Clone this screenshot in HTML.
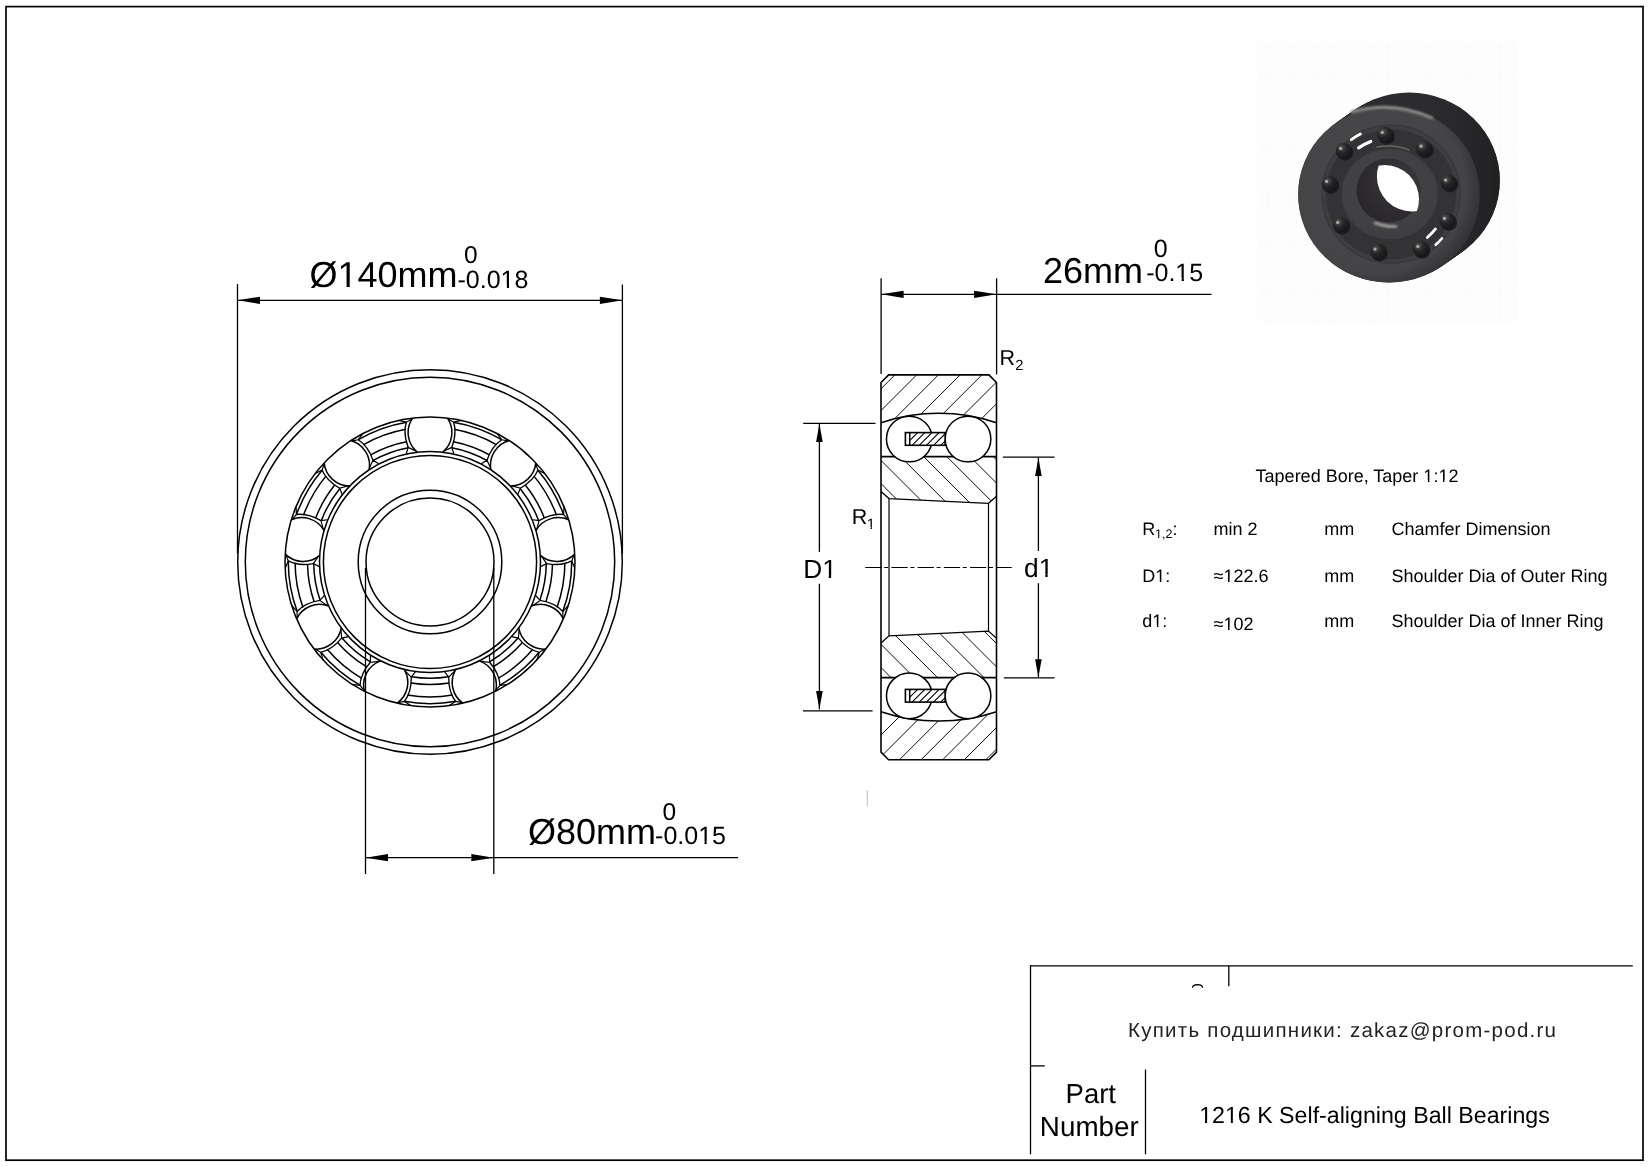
<!DOCTYPE html><html><head><meta charset="utf-8"><title>1216 K</title><style>html,body{margin:0;padding:0;background:#fff;overflow:hidden}svg{display:block;will-change:transform}</style></head><body><svg width="1649" height="1167" viewBox="0 0 1649 1167"><defs><clipPath id="annBall"><path fill-rule="evenodd" clip-rule="evenodd" d="M285 562a145 145 0 1 0 290 0a145 145 0 1 0 -290 0zM319.5 562a110.5 110.5 0 1 0 221 0a110.5 110.5 0 1 0 -221 0z"/></clipPath><clipPath id="annPock"><path fill-rule="evenodd" clip-rule="evenodd" d="M288 562a142 142 0 1 0 284 0a142 142 0 1 0 -284 0zM313.4 562a116.6 116.6 0 1 0 233.2 0a116.6 116.6 0 1 0 -233.2 0z"/></clipPath><clipPath id="cUO"><path d="M881 382.5L888.6 374.9L988.9 374.9L996.5 382.5L996.5 422.7A182.1 182.1 0 0 0 881 422.7z"/></clipPath><clipPath id="cLO"><path d="M881 752.1L888.6 759.7L988.9 759.7L996.5 752.1L996.5 711.7A182.1 182.1 0 0 1 881 711.7z"/></clipPath><clipPath id="cUI"><path d="M881 456.7L996.5 456.7L996.5 496.2L988.5 503.3L889 498.6L881 491.5z"/></clipPath><clipPath id="cLI"><path d="M881 677.7L996.5 677.7L996.5 638.2L988.5 631.1L889 635.8L881 642.9z"/></clipPath><clipPath id="cage439"><rect x="909.8" y="432.6" width="35.3" height="12.7"/></clipPath><clipPath id="cage695"><rect x="909.8" y="689.4" width="35.3" height="12.7"/></clipPath><clipPath id="cHole"><circle cx="1384.8" cy="199.3" r="34.2"/></clipPath><radialGradient id="gFace" cx="0.42" cy="0.45" r="0.62"><stop offset="0" stop-color="#4a4a4c"/><stop offset="0.8" stop-color="#444446"/><stop offset="1" stop-color="#2e2e30"/></radialGradient>
<linearGradient id="gSide" x1="0" y1="0" x2="1" y2="0"><stop offset="0.5" stop-color="#2c2c2e" stop-opacity="0"/><stop offset="1" stop-color="#202022" stop-opacity="1"/></linearGradient>
<radialGradient id="gInner" cx="0.45" cy="0.45" r="0.6"><stop offset="0" stop-color="#464648"/><stop offset="1" stop-color="#3e3e40"/></radialGradient>
<radialGradient id="gBore" cx="0.7" cy="0.35" r="0.7"><stop offset="0" stop-color="#3a3a3c"/><stop offset="1" stop-color="#2a272c"/></radialGradient>
<radialGradient id="gBall" cx="0.35" cy="0.3" r="0.75"><stop offset="0" stop-color="#555"/><stop offset="0.45" stop-color="#262628"/><stop offset="1" stop-color="#141416"/></radialGradient>
<filter id="blur1" x="-20%" y="-50%" width="140%" height="200%"><feGaussianBlur stdDeviation="1"/></filter>
<filter id="blur05" x="-50%" y="-50%" width="200%" height="200%"><feGaussianBlur stdDeviation="0.5"/></filter></defs><rect width="1649" height="1167" fill="#fff"/><rect x="6" y="6.6" width="1637" height="1153.6" fill="none" stroke="#000" stroke-width="1.7"/><circle cx="430" cy="562" r="192.3" fill="none" stroke="#000" stroke-width="1.5"/><circle cx="430" cy="562" r="184.7" fill="none" stroke="#000" stroke-width="1.5"/><circle cx="430" cy="562" r="145" fill="none" stroke="#000" stroke-width="1.5"/><circle cx="430" cy="562" r="110.5" fill="none" stroke="#000" stroke-width="1.5"/><circle cx="430" cy="562" r="106.6" fill="none" stroke="#000" stroke-width="1.5"/><circle cx="430" cy="562" r="71.8" fill="none" stroke="#000" stroke-width="1.5"/><circle cx="430" cy="562" r="64" fill="none" stroke="#000" stroke-width="1.5"/><path fill="none" stroke="#000" stroke-width="1.5" d="M412.59 418.05A25.67 25.67 0 0 0 417.38 452.22M447.41 418.05A25.67 25.67 0 0 1 442.62 452.22M509.2 440.54A25.67 25.67 0 0 0 490.9 469.79M535.86 462.91A25.67 25.67 0 0 1 510.23 486.02M568.74 519.86A25.67 25.67 0 0 0 535.92 530.51M574.79 554.14A25.67 25.67 0 0 1 540.3 555.37M563.37 618.9A25.67 25.67 0 0 0 531.38 605.96M545.96 649.05A25.67 25.67 0 0 1 518.76 627.82M495.59 691.32A25.67 25.67 0 0 0 479.41 660.84M462.88 703.22A25.67 25.67 0 0 1 455.69 669.47M397.12 703.22A25.67 25.67 0 0 0 404.31 669.47M364.41 691.32A25.67 25.67 0 0 1 380.59 660.84M314.04 649.05A25.67 25.67 0 0 0 341.24 627.82M296.63 618.9A25.67 25.67 0 0 1 328.62 605.96M285.21 554.14A25.67 25.67 0 0 0 319.7 555.37M291.26 519.86A25.67 25.67 0 0 1 324.08 530.51M324.14 462.91A25.67 25.67 0 0 0 349.77 486.02M350.8 440.54A25.67 25.67 0 0 1 369.1 469.79"/><path fill="none" stroke="#000" stroke-width="1.35" d="M453.6 422.2Q457.1 433.2 451.8 447.4M406.4 422.2Q402.9 433.2 408.2 447.4M537.94 470.08Q533.55 480.75 520.36 488.22M501.78 439.74Q492.03 445.91 486.96 460.2M571.77 560.97Q561.55 566.32 546.64 563.57M563.58 514.48Q552.14 512.95 539.07 520.63M539.27 652.34Q527.99 649.87 518.35 638.18M562.87 611.46Q555.09 602.93 540.15 600.42M455.64 701.44Q448.59 692.3 448.71 677.14M499.99 685.3Q499.52 673.76 489.68 662.23M360.01 685.3Q360.48 673.76 370.32 662.23M404.36 701.44Q411.41 692.3 411.29 677.14M297.13 611.46Q304.91 602.93 319.85 600.42M320.73 652.34Q332.01 649.87 341.65 638.18M296.42 514.48Q307.86 512.95 320.93 520.63M288.23 560.97Q298.45 566.32 313.36 563.57M358.22 439.74Q367.97 445.91 373.04 460.2M322.06 470.08Q326.45 480.75 339.64 488.22"/><path fill="none" stroke="#000" stroke-width="1.5" d="M453.28 422.23A141.7 141.7 0 0 1 502.01 439.96M454.2 429.29A134.9 134.9 0 0 1 496.77 444.78M453.46 441.77A122.5 122.5 0 0 1 489.31 454.82M451.81 447.76A116.3 116.3 0 0 1 486.73 460.47M537.68 469.89A141.7 141.7 0 0 1 563.61 514.8M533.84 475.89A134.9 134.9 0 0 1 556.49 515.12M525.25 484.97A122.5 122.5 0 0 1 544.33 518.02M520.13 488.51A116.3 116.3 0 0 1 538.72 520.69M571.69 560.65A141.7 141.7 0 0 1 562.69 611.73M564.9 562.79A134.9 134.9 0 0 1 557.03 607.4M552.48 564.22A122.5 122.5 0 0 1 545.85 601.8M546.29 563.64A116.3 116.3 0 0 1 539.84 600.23M539.41 652.05A141.7 141.7 0 0 1 499.68 685.38M532.83 649.31A134.9 134.9 0 0 1 498.13 678.43M522.4 642.43A122.5 122.5 0 0 1 493.17 666.96M518.03 638A116.3 116.3 0 0 1 489.56 661.89M455.93 701.31A141.7 141.7 0 0 1 404.07 701.31M452.65 694.99A134.9 134.9 0 0 1 407.35 694.99M449.08 683.01A122.5 122.5 0 0 1 410.92 683.01M448.58 676.81A116.3 116.3 0 0 1 411.42 676.81M360.32 685.38A141.7 141.7 0 0 1 320.59 652.05M361.87 678.43A134.9 134.9 0 0 1 327.17 649.31M366.83 666.96A122.5 122.5 0 0 1 337.6 642.43M370.44 661.89A116.3 116.3 0 0 1 341.97 638M297.31 611.73A141.7 141.7 0 0 1 288.31 560.65M302.97 607.4A134.9 134.9 0 0 1 295.1 562.79M314.15 601.8A122.5 122.5 0 0 1 307.52 564.22M320.16 600.23A116.3 116.3 0 0 1 313.71 563.64M296.39 514.8A141.7 141.7 0 0 1 322.32 469.89M303.51 515.12A134.9 134.9 0 0 1 326.16 475.89M315.67 518.02A122.5 122.5 0 0 1 334.75 484.97M321.28 520.69A116.3 116.3 0 0 1 339.87 488.51M357.99 439.96A141.7 141.7 0 0 1 406.72 422.23M363.23 444.78A134.9 134.9 0 0 1 405.8 429.29M370.69 454.82A122.5 122.5 0 0 1 406.54 441.77M373.27 460.47A116.3 116.3 0 0 1 408.19 447.76"/><path fill="none" stroke="#000" stroke-width="1.2" d="M448 418.9L453.6 422.2L461.5 420.4M443.9 451.1L451.8 447.4L453.8 453.8M412 418.9L406.4 422.2L398.5 420.4M416.1 451.1L408.2 447.4L406.2 453.8M535.77 463.95L537.94 470.08L545.15 473.78M511.93 485.98L520.36 488.22L517.78 494.41M508.19 440.81L501.78 439.74L496.89 433.28M490.64 468.11L486.96 460.2L481.32 463.82M574.05 554.88L571.77 560.97L574.92 568.43M541.63 556.43L546.64 563.57L540.69 566.65M567.8 519.42L563.58 514.48L563.98 506.39M536.8 529.05L539.07 520.63L532.42 519.77M544.93 649.14L539.27 652.34L536.88 660.08M519.09 629.49L518.35 638.18L511.8 636.71M562.93 617.96L562.87 611.46L568.38 605.52M532.99 605.41L540.15 600.42L535.6 595.49M462.03 702.63L455.64 701.44L448.83 705.83M454.87 670.97L448.71 677.14L444.64 671.81M495.86 690.31L499.99 685.3L508.03 684.29M480.99 661.46L489.68 662.23L489.37 655.53M364.14 690.31L360.01 685.3L351.97 684.29M379.01 661.46L370.32 662.23L370.63 655.53M397.97 702.63L404.36 701.44L411.17 705.83M405.13 670.97L411.29 677.14L415.36 671.81M297.07 617.96L297.13 611.46L291.62 605.52M327.01 605.41L319.85 600.42L324.4 595.49M315.07 649.14L320.73 652.34L323.12 660.08M340.91 629.49L341.65 638.18L348.2 636.71M292.2 519.42L296.42 514.48L296.02 506.39M323.2 529.05L320.93 520.63L327.58 519.77M285.95 554.88L288.23 560.97L285.08 568.43M318.37 556.43L313.36 563.57L319.31 566.65M351.81 440.81L358.22 439.74L363.11 433.28M369.36 468.11L373.04 460.2L378.68 463.82M324.23 463.95L322.06 470.08L314.85 473.78M348.07 485.98L339.64 488.22L342.22 494.41"/><line x1="237.5" y1="284" x2="237.5" y2="553.5" stroke="#000" stroke-width="1.3"/><line x1="622.4" y1="284.4" x2="622.4" y2="553.5" stroke="#000" stroke-width="1.3"/><line x1="237.5" y1="300.3" x2="622.4" y2="300.3" stroke="#000" stroke-width="1.3"/><path d="M237.5 300.3L260 303.9L260 296.7z" fill="#000"/><path d="M622.4 300.3L599.9 296.7L599.9 303.9z" fill="#000"/><line x1="365.5" y1="568" x2="365.5" y2="874" stroke="#000" stroke-width="1.3"/><line x1="493.8" y1="568" x2="493.8" y2="874" stroke="#000" stroke-width="1.3"/><line x1="365.5" y1="857.7" x2="738.1" y2="857.7" stroke="#000" stroke-width="1.3"/><path d="M365.5 857.7L388 861.3L388 854.1z" fill="#000"/><path d="M493.8 857.7L471.3 854.1L471.3 861.3z" fill="#000"/><path clip-path="url(#cUO)" fill="none" stroke="#000" stroke-width="0.95" d="M317.3 300L-182.7 800M339.05 300L-160.95 800M360.8 300L-139.2 800M382.55 300L-117.45 800M404.3 300L-95.7 800M426.05 300L-73.95 800M447.8 300L-52.2 800M469.55 300L-30.45 800M491.3 300L-8.7 800M513.05 300L13.05 800M534.8 300L34.8 800M556.55 300L56.55 800M578.3 300L78.3 800M600.05 300L100.05 800M621.8 300L121.8 800M643.55 300L143.55 800M665.3 300L165.3 800M687.05 300L187.05 800M708.8 300L208.8 800M730.55 300L230.55 800M752.3 300L252.3 800M774.05 300L274.05 800M795.8 300L295.8 800M817.55 300L317.55 800M839.3 300L339.3 800M861.05 300L361.05 800M882.8 300L382.8 800M904.55 300L404.55 800M926.3 300L426.3 800M948.05 300L448.05 800M969.8 300L469.8 800M991.55 300L491.55 800M1013.3 300L513.3 800M1035.05 300L535.05 800M1056.8 300L556.8 800M1078.55 300L578.55 800M1100.3 300L600.3 800M1122.05 300L622.05 800M1143.8 300L643.8 800M1165.55 300L665.55 800M1187.3 300L687.3 800M1209.05 300L709.05 800M1230.8 300L730.8 800M1252.55 300L752.55 800M1274.3 300L774.3 800M1296.05 300L796.05 800M1317.8 300L817.8 800M1339.55 300L839.55 800M1361.3 300L861.3 800M1383.05 300L883.05 800M1404.8 300L904.8 800M1426.55 300L926.55 800M1448.3 300L948.3 800M1470.05 300L970.05 800M1491.8 300L991.8 800M1513.55 300L1013.55 800M1535.3 300L1035.3 800M1557.05 300L1057.05 800M1578.8 300L1078.8 800M1600.55 300L1100.55 800M1622.3 300L1122.3 800"/><path clip-path="url(#cLO)" fill="none" stroke="#000" stroke-width="0.95" d="M711.2 300L211.2 800M732.8 300L232.8 800M754.4 300L254.4 800M776 300L276 800M797.6 300L297.6 800M819.2 300L319.2 800M840.8 300L340.8 800M862.4 300L362.4 800M884 300L384 800M905.6 300L405.6 800M927.2 300L427.2 800M948.8 300L448.8 800M970.4 300L470.4 800M992 300L492 800M1013.6 300L513.6 800M1035.2 300L535.2 800M1056.8 300L556.8 800M1078.4 300L578.4 800M1100 300L600 800M1121.6 300L621.6 800M1143.2 300L643.2 800M1164.8 300L664.8 800M1186.4 300L686.4 800M1208 300L708 800M1229.6 300L729.6 800M1251.2 300L751.2 800M1272.8 300L772.8 800M1294.4 300L794.4 800M1316 300L816 800M1337.6 300L837.6 800M1359.2 300L859.2 800M1380.8 300L880.8 800M1402.4 300L902.4 800M1424 300L924 800M1445.6 300L945.6 800M1467.2 300L967.2 800M1488.8 300L988.8 800M1510.4 300L1010.4 800M1532 300L1032 800M1553.6 300L1053.6 800M1575.2 300L1075.2 800M1596.8 300L1096.8 800M1618.4 300L1118.4 800M1640 300L1140 800M1661.6 300L1161.6 800M1683.2 300L1183.2 800M1704.8 300L1204.8 800M1726.4 300L1226.4 800M1748 300L1248 800M1769.6 300L1269.6 800M1791.2 300L1291.2 800M1812.8 300L1312.8 800M1834.4 300L1334.4 800M1856 300L1356 800M1877.6 300L1377.6 800M1899.2 300L1399.2 800M1920.8 300L1420.8 800M1942.4 300L1442.4 800M1964 300L1464 800M1985.6 300L1485.6 800M2007.2 300L1507.2 800"/><path clip-path="url(#cUI)" fill="none" stroke="#000" stroke-width="0.95" d="M233.4 300L733.4 800M256.6 300L756.6 800M279.8 300L779.8 800M303 300L803 800M326.2 300L826.2 800M349.4 300L849.4 800M372.6 300L872.6 800M395.8 300L895.8 800M419 300L919 800M442.2 300L942.2 800M465.4 300L965.4 800M488.6 300L988.6 800M511.8 300L1011.8 800M535 300L1035 800M558.2 300L1058.2 800M581.4 300L1081.4 800M604.6 300L1104.6 800M627.8 300L1127.8 800M651 300L1151 800M674.2 300L1174.2 800M697.4 300L1197.4 800M720.6 300L1220.6 800M743.8 300L1243.8 800M767 300L1267 800M790.2 300L1290.2 800M813.4 300L1313.4 800M836.6 300L1336.6 800M859.8 300L1359.8 800M883 300L1383 800M906.2 300L1406.2 800M929.4 300L1429.4 800M952.6 300L1452.6 800M975.8 300L1475.8 800M999 300L1499 800M1022.2 300L1522.2 800M1045.4 300L1545.4 800M1068.6 300L1568.6 800M1091.8 300L1591.8 800M1115 300L1615 800M1138.2 300L1638.2 800M1161.4 300L1661.4 800"/><path clip-path="url(#cLI)" fill="none" stroke="#000" stroke-width="0.95" d="M94.9 300L594.9 800M118.15 300L618.15 800M141.4 300L641.4 800M164.65 300L664.65 800M187.9 300L687.9 800M211.15 300L711.15 800M234.4 300L734.4 800M257.65 300L757.65 800M280.9 300L780.9 800M304.15 300L804.15 800M327.4 300L827.4 800M350.65 300L850.65 800M373.9 300L873.9 800M397.15 300L897.15 800M420.4 300L920.4 800M443.65 300L943.65 800M466.9 300L966.9 800M490.15 300L990.15 800M513.4 300L1013.4 800M536.65 300L1036.65 800M559.9 300L1059.9 800M583.15 300L1083.15 800M606.4 300L1106.4 800M629.65 300L1129.65 800M652.9 300L1152.9 800M676.15 300L1176.15 800M699.4 300L1199.4 800M722.65 300L1222.65 800M745.9 300L1245.9 800M769.15 300L1269.15 800M792.4 300L1292.4 800M815.65 300L1315.65 800M838.9 300L1338.9 800M862.15 300L1362.15 800M885.4 300L1385.4 800M908.65 300L1408.65 800M931.9 300L1431.9 800M955.15 300L1455.15 800M978.4 300L1478.4 800M1001.65 300L1501.65 800M1024.9 300L1524.9 800"/><path d="M881 382.5L888.6 374.9L988.9 374.9L996.5 382.5L996.5 752.1L988.9 759.7L888.6 759.7L881 752.1z" fill="none" stroke="#000" stroke-width="1.6"/><path d="M881 422.7A182.1 182.1 0 0 1 996.5 422.7M881 711.7A182.1 182.1 0 0 0 996.5 711.7" fill="none" stroke="#000" stroke-width="1.5"/><line x1="881" y1="456.7" x2="996.5" y2="456.7" stroke="#000" stroke-width="1.8"/><line x1="881" y1="677.7" x2="996.5" y2="677.7" stroke="#000" stroke-width="1.8"/><path d="M881 491.5L889 498.6L988.5 503.3L996.5 496.2M881 642.9L889 635.8L988.5 631.1L996.5 638.2" fill="none" stroke="#000" stroke-width="1.3"/><line x1="889" y1="498.6" x2="889" y2="635.8" stroke="#000" stroke-width="1.2"/><line x1="988.5" y1="503.3" x2="988.5" y2="631.1" stroke="#000" stroke-width="1.2"/><circle cx="909.3" cy="439" r="22.85" fill="#fff" stroke="#000" stroke-width="1.5"/><circle cx="968" cy="439" r="22.85" fill="#fff" stroke="#000" stroke-width="1.5"/><rect x="905.4" y="432.6" width="39.7" height="12.7" fill="#fff" stroke="#000" stroke-width="1.6"/><path clip-path="url(#cage439)" fill="none" stroke="#000" stroke-width="1.1" d="M896.8 446.3L911.5 431.6M903.95 446.3L918.65 431.6M911.1 446.3L925.8 431.6M918.25 446.3L932.95 431.6M925.4 446.3L940.1 431.6M932.55 446.3L947.25 431.6M939.7 446.3L954.4 431.6M946.85 446.3L961.55 431.6M954 446.3L968.7 431.6"/><line x1="909.7" y1="432.6" x2="909.7" y2="445.3" stroke="#000" stroke-width="1.5"/><circle cx="909.3" cy="695.8" r="22.85" fill="#fff" stroke="#000" stroke-width="1.5"/><circle cx="968" cy="695.8" r="22.85" fill="#fff" stroke="#000" stroke-width="1.5"/><rect x="905.4" y="689.4" width="39.7" height="12.7" fill="#fff" stroke="#000" stroke-width="1.6"/><path clip-path="url(#cage695)" fill="none" stroke="#000" stroke-width="1.1" d="M896.8 703.1L911.5 688.4M903.95 703.1L918.65 688.4M911.1 703.1L925.8 688.4M918.25 703.1L932.95 688.4M925.4 703.1L940.1 688.4M932.55 703.1L947.25 688.4M939.7 703.1L954.4 688.4M946.85 703.1L961.55 688.4M954 703.1L968.7 688.4"/><line x1="909.7" y1="689.4" x2="909.7" y2="702.1" stroke="#000" stroke-width="1.5"/><line x1="865.2" y1="567.5" x2="1011.7" y2="567.5" stroke="#000" stroke-width="1.2" stroke-dasharray="16.3 2.7 4 3.2"/><line x1="881.1" y1="278.3" x2="881.1" y2="374" stroke="#000" stroke-width="1.3"/><line x1="996.6" y1="278.3" x2="996.6" y2="374.5" stroke="#000" stroke-width="1.3"/><line x1="881" y1="294.3" x2="1211.5" y2="294.3" stroke="#000" stroke-width="1.3"/><path d="M881.1 294.3L903.6 297.9L903.6 290.7z" fill="#000"/><path d="M996.6 294.3L974.1 290.7L974.1 297.9z" fill="#000"/><line x1="803.2" y1="423.3" x2="875.5" y2="423.3" stroke="#000" stroke-width="1.3"/><line x1="803" y1="710.8" x2="872.6" y2="710.8" stroke="#000" stroke-width="1.3"/><line x1="819.4" y1="423.8" x2="819.4" y2="551.9" stroke="#000" stroke-width="1.3"/><line x1="819.4" y1="583.8" x2="819.4" y2="709.3" stroke="#000" stroke-width="1.3"/><path d="M819.4 423.8L816.1 442.1L822.7 442.1z" fill="#000"/><path d="M819.4 709.3L822.7 691L816.1 691z" fill="#000"/><line x1="1002.9" y1="457.1" x2="1054.6" y2="457.1" stroke="#000" stroke-width="1.3"/><line x1="1003.8" y1="677.8" x2="1054.6" y2="677.8" stroke="#000" stroke-width="1.3"/><line x1="1038.4" y1="457.8" x2="1038.4" y2="551" stroke="#000" stroke-width="1.3"/><line x1="1038.4" y1="583.2" x2="1038.4" y2="677.3" stroke="#000" stroke-width="1.3"/><path d="M1038.4 457.8L1035.1 475.9L1041.7 475.9z" fill="#000"/><path d="M1038.4 677.3L1041.7 659.2L1035.1 659.2z" fill="#000"/><line x1="867.3" y1="790.5" x2="867.3" y2="806" stroke="#bbb" stroke-width="1.0"/><line x1="1030.5" y1="965.9" x2="1632.8" y2="965.9" stroke="#000" stroke-width="1.3"/><line x1="1030.5" y1="965.2" x2="1030.5" y2="1154.3" stroke="#000" stroke-width="1.3"/><line x1="1228.8" y1="966" x2="1228.8" y2="986.3" stroke="#000" stroke-width="1.3"/><line x1="1030.5" y1="1065.9" x2="1044.7" y2="1065.9" stroke="#000" stroke-width="1.3"/><line x1="1145.5" y1="1069.5" x2="1145.5" y2="1154.3" stroke="#000" stroke-width="1.3"/><path d="M1192.5 987.7Q1192.5 984.8 1197.5 984.6Q1202.6 984.8 1202.6 987.7" fill="none" stroke="#000" stroke-width="1.3"/><rect x="1258" y="42" width="259" height="281" fill="#fdfdfd"/><g stroke="#f9f9f9" stroke-width="1"><line x1="1269" y1="42" x2="1269" y2="323"/><line x1="1290" y1="42" x2="1290" y2="323"/><line x1="1317" y1="42" x2="1317" y2="323"/><line x1="1333" y1="42" x2="1333" y2="323"/><line x1="1373" y1="42" x2="1373" y2="323"/><line x1="1388" y1="42" x2="1388" y2="323"/><line x1="1430" y1="42" x2="1430" y2="323"/><line x1="1470" y1="42" x2="1470" y2="323"/><line x1="1500" y1="42" x2="1500" y2="323"/><line x1="1258" y1="75" x2="1517" y2="75"/><line x1="1258" y1="150" x2="1517" y2="150"/><line x1="1258" y1="200" x2="1517" y2="200"/><line x1="1258" y1="245" x2="1517" y2="245"/><line x1="1258" y1="290" x2="1517" y2="290"/></g><g fill="#2c2c2e"><ellipse cx="1389" cy="194.5" rx="90.8" ry="88"/><ellipse cx="1390.43" cy="193.5" rx="90.8" ry="88"/><ellipse cx="1391.86" cy="192.5" rx="90.8" ry="88"/><ellipse cx="1393.29" cy="191.5" rx="90.8" ry="88"/><ellipse cx="1394.71" cy="190.5" rx="90.8" ry="88"/><ellipse cx="1396.14" cy="189.5" rx="90.8" ry="88"/><ellipse cx="1397.57" cy="188.5" rx="90.8" ry="88"/><ellipse cx="1399" cy="187.5" rx="90.8" ry="88"/><ellipse cx="1400.43" cy="186.5" rx="90.8" ry="88"/><ellipse cx="1401.86" cy="185.5" rx="90.8" ry="88"/><ellipse cx="1403.29" cy="184.5" rx="90.8" ry="88"/><ellipse cx="1404.71" cy="183.5" rx="90.8" ry="88"/><ellipse cx="1406.14" cy="182.5" rx="90.8" ry="88"/><ellipse cx="1407.57" cy="181.5" rx="90.8" ry="88"/><ellipse cx="1409" cy="180.5" rx="90.8" ry="88"/></g><ellipse cx="1409" cy="180.5" rx="90.8" ry="88" fill="url(#gSide)"/><ellipse cx="1389" cy="194.5" rx="90.8" ry="88" fill="url(#gFace)"/><path d="M1352 112 Q1392 100 1432 118" fill="none" stroke="#8c8c8c" stroke-width="3" stroke-linecap="round" filter="url(#blur1)"/><circle cx="1391" cy="194.2" r="69" fill="#3e3e40" stroke="#38383a" stroke-width="1.5"/><circle cx="1391" cy="194.2" r="65" fill="#333335"/><g fill="none" stroke="#fff" stroke-linecap="round" filter="url(#blur05)"><path d="M1351.32 139.59A67.5 67.5 0 0 1 1360.36 134.06" stroke-width="2.8"/><path d="M1358.59 147.92A56.5 56.5 0 0 1 1370.75 141.45" stroke-width="3.2"/><path d="M1435.52 228.98A56.5 56.5 0 0 1 1427.32 237.48" stroke-width="2.8"/><path d="M1441.94 238.48A67.5 67.5 0 0 1 1435.73 244.75" stroke-width="2.6"/></g><ellipse cx="1389.7" cy="194" rx="49.5" ry="46.5" fill="url(#gInner)"/><ellipse cx="1389.7" cy="194" rx="48.8" ry="45.8" fill="none" stroke="#323234" stroke-width="1.4"/><path d="M1375 223 Q1386 227 1396 226.5" fill="none" stroke="#a8a8a8" stroke-width="2.6" stroke-linecap="round" filter="url(#blur1)"/><path d="M1377 147 Q1395 144 1409 150" fill="none" stroke="#666" stroke-width="1.6" stroke-linecap="round" filter="url(#blur05)"/><circle cx="1388.5" cy="190.5" r="32" fill="url(#gBore)"/><circle cx="1411.9" cy="176.4" r="35" fill="#fff" clip-path="url(#cHole)"/><circle cx="1386.7" cy="136.5" r="8.2" fill="#1c1c1e"/><circle cx="1385.2" cy="135" r="8.0" fill="url(#gBall)"/><circle cx="1382.2" cy="132.4" r="1.6" fill="#aaa" filter="url(#blur05)"/><circle cx="1425.5" cy="150.3" r="8.2" fill="#1c1c1e"/><circle cx="1424" cy="148.8" r="8.0" fill="url(#gBall)"/><circle cx="1421" cy="146.2" r="1.6" fill="#aaa" filter="url(#blur05)"/><circle cx="1450.1" cy="184.2" r="8.2" fill="#1c1c1e"/><circle cx="1448.6" cy="182.7" r="8.0" fill="url(#gBall)"/><circle cx="1445.6" cy="180.1" r="1.6" fill="#aaa" filter="url(#blur05)"/><circle cx="1448.9" cy="222.5" r="8.2" fill="#1c1c1e"/><circle cx="1447.4" cy="221" r="8.0" fill="url(#gBall)"/><circle cx="1444.4" cy="218.4" r="1.6" fill="#aaa" filter="url(#blur05)"/><circle cx="1422.3" cy="250.5" r="8.2" fill="#1c1c1e"/><circle cx="1420.8" cy="249" r="8.0" fill="url(#gBall)"/><circle cx="1417.8" cy="246.4" r="1.6" fill="#aaa" filter="url(#blur05)"/><circle cx="1379.5" cy="253.2" r="8.2" fill="#1c1c1e"/><circle cx="1378" cy="251.7" r="8.0" fill="url(#gBall)"/><circle cx="1375" cy="249.1" r="1.6" fill="#aaa" filter="url(#blur05)"/><circle cx="1342.2" cy="226.5" r="8.2" fill="#1c1c1e"/><circle cx="1340.7" cy="225" r="8.0" fill="url(#gBall)"/><circle cx="1337.7" cy="222.4" r="1.6" fill="#aaa" filter="url(#blur05)"/><circle cx="1331.1" cy="185.5" r="8.2" fill="#1c1c1e"/><circle cx="1329.6" cy="184" r="8.0" fill="url(#gBall)"/><circle cx="1326.6" cy="181.4" r="1.6" fill="#aaa" filter="url(#blur05)"/><circle cx="1345.2" cy="152.5" r="8.2" fill="#1c1c1e"/><circle cx="1343.7" cy="151" r="8.0" fill="url(#gBall)"/><circle cx="1340.7" cy="148.4" r="1.6" fill="#aaa" filter="url(#blur05)"/><g font-family='"Liberation Sans", sans-serif' fill="#000" text-rendering="geometricPrecision"><text x="309.5" y="287" font-size="36" text-anchor="start" >Ø140mm</text><text x="457.5" y="287.7" font-size="25" text-anchor="start" >-0.018</text><text x="464" y="262.7" font-size="24.5" text-anchor="start" >0</text><text x="1043" y="283.2" font-size="36" text-anchor="start" >26mm</text><text x="1146.2" y="280.7" font-size="25" text-anchor="start" >-0.15</text><text x="1153.8" y="257.1" font-size="25" text-anchor="start" >0</text><text x="528" y="844.1" font-size="36" text-anchor="start" >Ø80mm</text><text x="655.1" y="843.7" font-size="25" text-anchor="start" >-0.015</text><text x="662.6" y="819.7" font-size="24.5" text-anchor="start" >0</text><text x="820" y="578" font-size="26.3" text-anchor="middle" >D1</text><text x="1038.7" y="577" font-size="26.3" text-anchor="middle" >d1</text><text x="999.6" y="364.7" font-size="21.5" text-anchor="start" >R</text><text x="1015.2" y="369.5" font-size="14.8" text-anchor="start" >2</text><text x="851.8" y="523.8" font-size="21.5" text-anchor="start" >R</text><text x="866.8" y="528.8" font-size="15" text-anchor="start" >1</text><text x="1357" y="482.1" font-size="18" text-anchor="middle" >Tapered Bore, Taper 1:12</text><text x="1213.6" y="535.3" font-size="18" text-anchor="start" >min 2</text><text x="1324.3" y="535.3" font-size="18" text-anchor="start" >mm</text><text x="1391.5" y="535.3" font-size="18" text-anchor="start" >Chamfer Dimension</text><text x="1142.3" y="582.3" font-size="18" text-anchor="start" >D1:</text><text x="1213.6" y="582.3" font-size="18" text-anchor="start" >≈122.6</text><text x="1324.3" y="582.3" font-size="18" text-anchor="start" >mm</text><text x="1391.5" y="582.3" font-size="18" text-anchor="start" >Shoulder Dia of Outer Ring</text><text x="1142.3" y="627" font-size="18" text-anchor="start" >d1:</text><text x="1213.6" y="629.6" font-size="18" text-anchor="start" >≈102</text><text x="1324.3" y="627" font-size="18" text-anchor="start" >mm</text><text x="1391.5" y="627" font-size="18" text-anchor="start" >Shoulder Dia of Inner Ring</text><text x="1142.3" y="535.3" font-size="18" text-anchor="start" >R</text><text x="1155" y="538.4" font-size="12.5" text-anchor="start" >1,2</text><text x="1172.5" y="535.3" font-size="18" text-anchor="start" >:</text><text x="1342" y="1037" font-size="20.5" text-anchor="middle" textLength="428" lengthAdjust="spacing" fill="#222">Купить подшипники: zakaz@prom-pod.ru</text><text x="1090.8" y="1102.9" font-size="27.5" text-anchor="middle" >Part</text><text x="1089.3" y="1135.7" font-size="27.8" text-anchor="middle" >Number</text><text x="1374.5" y="1122.9" font-size="23.2" text-anchor="middle" >1216 K Self-aligning Ball Bearings</text></g><g fill="#fff"><rect x="339.43" y="283.51" width="7.12" height="4.69"/><rect x="349.73" y="283.51" width="6.93" height="4.69"/><rect x="501.92" y="285.03" width="4.94" height="3.87"/><rect x="509.07" y="285.03" width="4.81" height="3.87"/><rect x="1176.71" y="278.03" width="4.94" height="3.87"/><rect x="1183.87" y="278.03" width="4.81" height="3.87"/><rect x="699.52" y="841.03" width="4.94" height="3.87"/><rect x="706.67" y="841.03" width="4.81" height="3.87"/><rect x="823.58" y="575.24" width="5.20" height="3.96"/><rect x="831.11" y="575.24" width="5.06" height="3.96"/><rect x="1040.10" y="574.24" width="5.20" height="3.96"/><rect x="1047.63" y="574.24" width="5.06" height="3.96"/><rect x="867.61" y="526.88" width="2.97" height="3.12"/><rect x="871.90" y="526.88" width="2.89" height="3.12"/><rect x="1424.33" y="479.96" width="3.56" height="3.34"/><rect x="1429.48" y="479.96" width="3.46" height="3.34"/><rect x="1439.34" y="479.96" width="3.56" height="3.34"/><rect x="1444.49" y="479.96" width="3.46" height="3.34"/><rect x="1156.25" y="580.16" width="3.56" height="3.34"/><rect x="1161.40" y="580.16" width="3.46" height="3.34"/><rect x="1224.44" y="580.16" width="3.56" height="3.34"/><rect x="1229.59" y="580.16" width="3.46" height="3.34"/><rect x="1153.27" y="624.86" width="3.56" height="3.34"/><rect x="1158.42" y="624.86" width="3.46" height="3.34"/><rect x="1224.44" y="627.46" width="3.56" height="3.34"/><rect x="1229.59" y="627.46" width="3.46" height="3.34"/><rect x="1155.67" y="536.67" width="2.47" height="2.93"/><rect x="1159.25" y="536.67" width="2.40" height="2.93"/><rect x="1200.44" y="1120.37" width="4.59" height="3.73"/><rect x="1207.08" y="1120.37" width="4.46" height="3.73"/><rect x="1226.22" y="1120.37" width="4.59" height="3.73"/><rect x="1232.86" y="1120.37" width="4.46" height="3.73"/></g></svg></body></html>
